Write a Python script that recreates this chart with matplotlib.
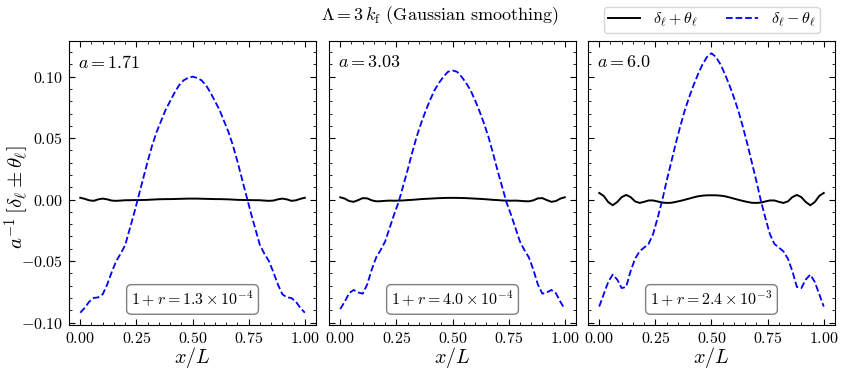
import matplotlib

matplotlib.use("Agg")
import matplotlib.pyplot as plt
import numpy as np

plt.rcParams["mathtext.fontset"] = "cm"
plt.rcParams["font.family"] = "serif"
plt.rcParams["font.serif"] = ["cmr10", "DejaVu Serif"]
plt.rcParams["axes.formatter.use_mathtext"] = True

# x positions along the box (step 0.02)
x = np.linspace(0.0, 1.0, 51)

scale_factors = ["1.71", "3.03", "6.0"]
ratio_labels = [r"1.3\times10^{-4}", r"4.0\times10^{-4}", r"2.4\times10^{-3}"]

# delta - theta (blue dashed)
minus_a171 = [
    -0.092, -0.088, -0.083, -0.080, -0.0795, -0.077, -0.069, -0.059, -0.050, -0.044,
    -0.037, -0.024, -0.011, 0.003, 0.017, 0.031, 0.044, 0.055, 0.064, 0.073,
    0.080, 0.087, 0.093, 0.097, 0.099, 0.100,
    0.099, 0.097, 0.093, 0.087, 0.080, 0.073, 0.064, 0.055, 0.044, 0.031,
    0.017, 0.003, -0.011, -0.024, -0.037, -0.044, -0.050, -0.059, -0.069, -0.077,
    -0.0795, -0.080, -0.083, -0.088, -0.092,
]
minus_a303 = [
    -0.089, -0.083, -0.076, -0.0735, -0.0755, -0.0765, -0.069, -0.057, -0.047, -0.041,
    -0.034, -0.023, -0.012, -0.002, 0.011, 0.024, 0.038, 0.051, 0.062, 0.072,
    0.081, 0.089, 0.095, 0.100, 0.104, 0.105,
    0.104, 0.100, 0.095, 0.089, 0.081, 0.072, 0.062, 0.051, 0.038, 0.024,
    0.011, -0.002, -0.012, -0.023, -0.034, -0.041, -0.047, -0.057, -0.069, -0.0765,
    -0.0755, -0.0735, -0.076, -0.083, -0.089,
]
minus_a600 = [
    -0.087, -0.077, -0.067, -0.061, -0.065, -0.072, -0.071, -0.058, -0.048, -0.042,
    -0.039, -0.036, -0.028, -0.015, -0.001, 0.015, 0.030, 0.045, 0.059, 0.072,
    0.083, 0.093, 0.102, 0.110, 0.116, 0.119,
    0.116, 0.110, 0.102, 0.093, 0.083, 0.072, 0.059, 0.045, 0.030, 0.015,
    -0.001, -0.015, -0.028, -0.036, -0.039, -0.042, -0.048, -0.058, -0.071, -0.072,
    -0.065, -0.061, -0.067, -0.077, -0.087,
]

# delta + theta (black solid)
plus_a171 = [
    0.0015, 0.0006, -0.0006, -0.0010, 0.0002, 0.0008, 0.0002, -0.0008, -0.0010, -0.0008,
    -0.0005, -0.0005, -0.0004, -0.0004, -0.0003, -0.0002, 0.0000, 0.0002, 0.0003, 0.0004,
    0.0004, 0.0005, 0.0006, 0.0007, 0.0008, 0.0008,
    0.0008, 0.0007, 0.0006, 0.0005, 0.0004, 0.0004, 0.0003, 0.0002, 0.0000, -0.0002,
    -0.0003, -0.0004, -0.0004, -0.0005, -0.0005, -0.0008, -0.0010, -0.0008, 0.0002, 0.0008,
    0.0002, -0.0010, -0.0006, 0.0006, 0.0015,
]
plus_a303 = [
    0.0019, 0.0008, -0.0012, -0.0018, -0.0004, 0.0012, 0.0010, -0.0006, -0.0014, -0.0013,
    -0.0010, -0.0008, -0.0009, -0.0008, -0.0007, -0.0004, -0.0002, 0.0001, 0.0004, 0.0006,
    0.0008, 0.0010, 0.0012, 0.0013, 0.0014, 0.0014,
    0.0014, 0.0013, 0.0012, 0.0010, 0.0008, 0.0006, 0.0004, 0.0001, -0.0002, -0.0004,
    -0.0007, -0.0008, -0.0009, -0.0008, -0.0010, -0.0013, -0.0014, -0.0006, 0.0010, 0.0012,
    -0.0004, -0.0018, -0.0012, 0.0008, 0.0019,
]
plus_a600 = [
    0.0054, 0.0030, -0.0020, -0.0046, -0.0020, 0.0020, 0.0038, 0.0020, -0.0015, -0.0027,
    -0.0018, -0.0007, -0.0007, -0.0015, -0.0024, -0.0027, -0.0026, -0.0019, -0.0011, -0.0002,
    0.0008, 0.0018, 0.0027, 0.0032, 0.0035, 0.0035,
    0.0035, 0.0032, 0.0027, 0.0018, 0.0008, -0.0002, -0.0011, -0.0019, -0.0026, -0.0027,
    -0.0024, -0.0015, -0.0007, -0.0007, -0.0018, -0.0027, -0.0015, 0.0020, 0.0038, 0.0020,
    -0.0020, -0.0046, -0.0020, 0.0030, 0.0054,
]

plus_series = [plus_a171, plus_a303, plus_a600]
minus_series = [minus_a171, minus_a303, minus_a600]

fig = plt.figure(figsize=(8.43, 3.70), dpi=100)
lefts = [0.0819, 0.3903, 0.6975]
axes = []
for i, left in enumerate(lefts):
    ax = fig.add_axes([left, 0.1216, 0.293, 0.7676], sharey=axes[0] if axes else None)
    axes.append(ax)

for i, ax in enumerate(axes):
    l1, = ax.plot(x, plus_series[i], color="black", lw=1.4, label=r"$\delta_\ell + \theta_\ell$")
    l2, = ax.plot(x, minus_series[i], color="blue", lw=1.3, ls="--",
                  label=r"$\delta_\ell - \theta_\ell$")
    ax.set_ylim(-0.102, 0.129)
    ax.set_xticks([0.0, 0.25, 0.5, 0.75, 1.0])
    ax.minorticks_on()
    ax.tick_params(which="both", direction="in", top=True, right=True, labelsize=11.5)
    ax.tick_params(which="major", length=4, pad=4.5)
    ax.tick_params(which="minor", length=2)
    ax.set_xlabel(r"$x/L$", fontsize=14.5)
    ax.xaxis.set_label_coords(0.5, -0.072)
    ax.text(0.035, 0.925, r"$a = %s$" % scale_factors[i], transform=ax.transAxes,
            fontsize=13, va="center", ha="left")
    ax.text(0.5, 0.09, r"$1 + r = %s$" % ratio_labels[i], transform=ax.transAxes,
            fontsize=11.5, ha="center", va="center",
            bbox=dict(boxstyle="round,pad=0.3", facecolor="white", edgecolor="gray"))
    if i > 0:
        plt.setp(ax.get_yticklabels(), visible=False)

axes[0].set_ylabel(r"$a^{-1}\,[\delta_\ell \pm \theta_\ell]$", fontsize=15)
axes[0].yaxis.set_label_coords(-0.155, 0.45)

fig.text(0.522, 0.957, r"$\Lambda = 3\,k_{\rm f}$ (Gaussian smoothing)", fontsize=13,
         ha="center", va="center")
fig.legend(handles=[l1, l2], loc="upper right", bbox_to_anchor=(0.978, 0.995), ncol=2,
           fontsize=11.5, frameon=True, handlelength=2.0, handletextpad=0.8,
           columnspacing=1.8, borderaxespad=0.3, borderpad=0.25)

fig.savefig("out.png", dpi=100)
